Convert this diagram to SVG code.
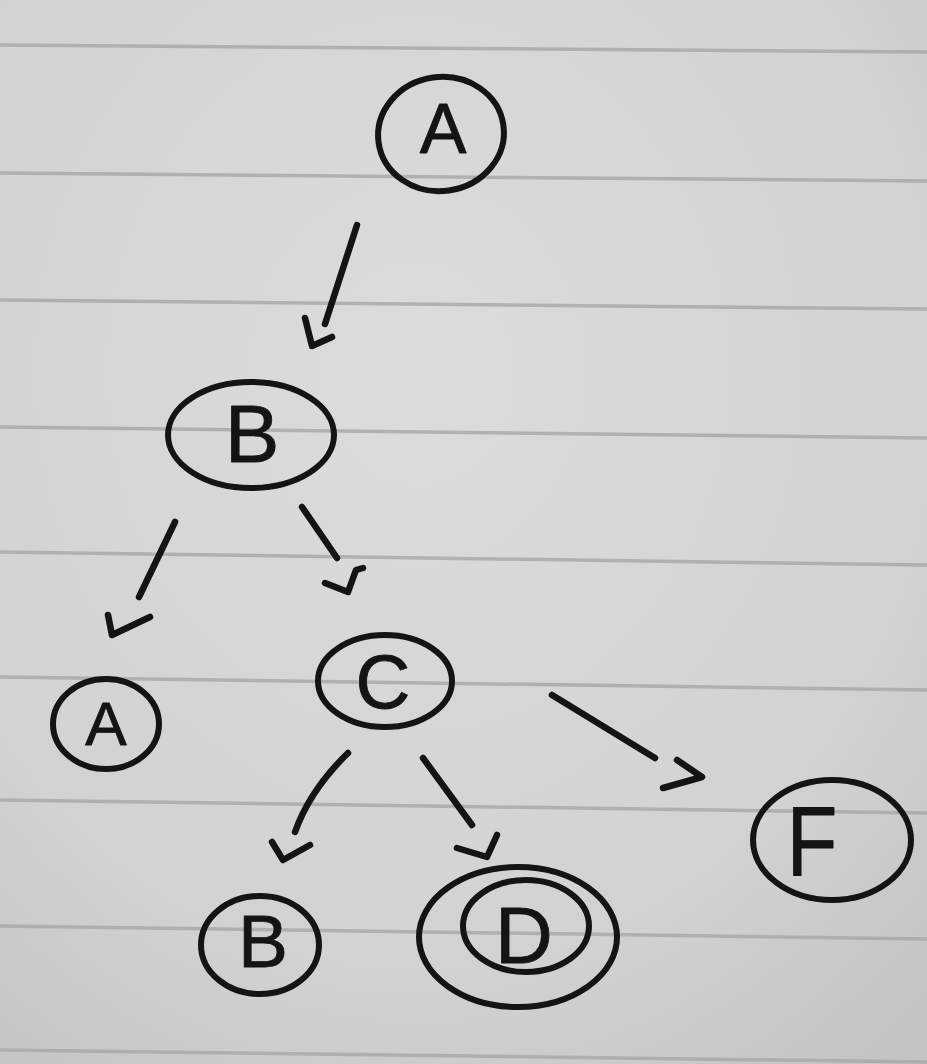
<svg xmlns="http://www.w3.org/2000/svg" width="927" height="1064" viewBox="0 0 927 1064">
<defs>
<radialGradient id="paper" cx="0.45" cy="0.35" r="0.8">
<stop offset="0" stop-color="#dcdcda"/>
<stop offset="0.7" stop-color="#d2d2d0"/>
<stop offset="1" stop-color="#c4c4c2"/>
</radialGradient>
<style>
.rule{stroke:#a9a9a8;stroke-width:3.5;fill:none;opacity:0.85}
.ring{fill:none;stroke:#141414;stroke-width:6}
.lbl{font-family:"Liberation Sans",Arial,sans-serif;fill:#141414;stroke:#141414;stroke-width:0.8;text-anchor:middle;stroke-linejoin:round}
.ink{fill:none;stroke:#141414;stroke-width:6.5;stroke-linecap:round;stroke-linejoin:round}
</style>
</defs>
<rect x="0" y="0" width="927" height="1064" fill="url(#paper)"/>
<g id="paper-lines">
<line class="rule" x1="0" y1="45" x2="927" y2="52"/>
<line class="rule" x1="0" y1="173" x2="927" y2="181"/>
<line class="rule" x1="0" y1="300" x2="927" y2="309"/>
<line class="rule" x1="0" y1="427" x2="927" y2="438"/>
<line class="rule" x1="0" y1="552" x2="927" y2="565"/>
<line class="rule" x1="0" y1="677" x2="927" y2="690"/>
<line class="rule" x1="0" y1="800" x2="927" y2="813"/>
<line class="rule" x1="0" y1="926" x2="927" y2="939"/>
<line class="rule" x1="0" y1="1050" x2="927" y2="1062"/>
</g>
<g id="connectors">
<path class="ink" d="M357,225 L325,324"/>
<path class="ink" d="M305,318 L312,346 L332,337"/>
<path class="ink" d="M175,522 L139,597"/>
<path class="ink" d="M108,615 L112,635 L150,617"/>
<path class="ink" d="M302,507 L337,558"/>
<path class="ink" d="M325,583 L348,592 L356,570 L363,568"/>
<path class="ink" d="M348,753 Q310,790 295,832"/>
<path class="ink" d="M272,842 L283,860 L310,845"/>
<path class="ink" d="M423,758 L472,825"/>
<path class="ink" d="M457,848 L487,857 L497,835"/>
<path class="ink" d="M552,695 L655,758"/>
<path class="ink" d="M677,760 L702,777 L663,788"/>
</g>
<g id="node-A-top">
<ellipse class="ring" cx="441" cy="134" rx="63" ry="57" transform="rotate(-8 441 134)"/>
<text class="lbl" x="443" y="153" font-size="70">A</text>
</g>
<g id="node-B">
<ellipse class="ring" cx="251" cy="435" rx="83" ry="53"/>
<text class="lbl" x="252" y="462" font-size="82">B</text>
</g>
<g id="node-A-left">
<ellipse class="ring" cx="106" cy="724" rx="53" ry="45"/>
<text class="lbl" x="106" y="745" font-size="62">A</text>
</g>
<g id="node-C">
<ellipse class="ring" cx="385" cy="681" rx="67" ry="46"/>
<text class="lbl" x="383" y="708" font-size="76">C</text>
</g>
<g id="node-F">
<ellipse class="ring" cx="832" cy="840" rx="79" ry="60"/>
<text class="lbl" x="812" y="875" font-size="98" transform="translate(812 0) scale(0.85 1) translate(-812 0)">F</text>
</g>
<g id="node-B-bottom">
<ellipse class="ring" cx="260" cy="945" rx="59" ry="49"/>
<text class="lbl" x="263" y="967" font-size="75">B</text>
</g>
<g id="node-D">
<ellipse class="ring" cx="518" cy="937" rx="99" ry="70"/>
<ellipse class="ring" cx="526" cy="926" rx="63" ry="46"/>
<text class="lbl" x="524" y="963" font-size="80">D</text>
</g>
</svg>
